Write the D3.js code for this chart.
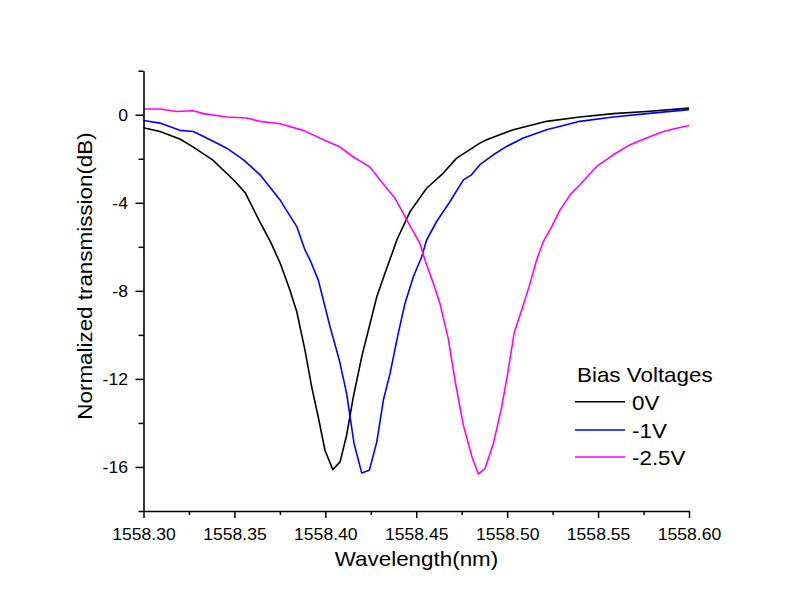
<!DOCTYPE html>
<html>
<head>
<meta charset="utf-8">
<script src="https://cdn.jsdelivr.net/npm/d3@7"></script>
<style>
  html, body { margin: 0; padding: 0; background: #fff; }
  svg { display: block; }
  text { font-family: "Liberation Sans", Arial, sans-serif; fill: #000; }
</style>
</head>
<body>
<svg id="chart" width="800" height="612"></svg>
<script>
// ---- data ----
const seriesNames = ["0V", "-1V", "-2.5V"];
const seriesColors = ["#000000", "#0000ff", "#ff00ff"];

const wl0 = [1558.300, 1558.309, 1558.320, 1558.327, 1558.338, 1558.350, 1558.356, 1558.364, 1558.370, 1558.3752, 1558.3805, 1558.3843, 1558.3888, 1558.3925, 1558.3961, 1558.3998, 1558.4041, 1558.4081, 1558.4117, 1558.4154, 1558.4200, 1558.4246, 1558.4283, 1558.4328, 1558.4374, 1558.4393, 1558.4466, 1558.4557, 1558.4649, 1558.4722, 1558.4850, 1558.4887, 1558.5034, 1558.5217, 1558.5400, 1558.5584, 1558.5767, 1558.6000];
const t0  = [-0.59, -0.76, -1.10, -1.45, -2.05, -3.00, -3.55, -4.87, -5.80, -6.75, -7.96, -8.95, -10.69, -12.36, -13.73, -15.24, -16.12, -15.77, -14.56, -12.82, -11.00, -9.48, -8.27, -7.20, -6.14, -5.69, -4.40, -3.34, -2.65, -1.97, -1.29, -1.14, -0.68, -0.30, -0.10, 0.05, 0.15, 0.30];

const wl1 = [1558.300, 1558.309, 1558.320, 1558.3274, 1558.3366, 1558.3458, 1558.3550, 1558.3641, 1558.3751, 1558.3796, 1558.3843, 1558.3888, 1558.3916, 1558.3961, 1558.4026, 1558.4077, 1558.4117, 1558.4158, 1558.4200, 1558.4242, 1558.4283, 1558.4319, 1558.4356, 1558.4401, 1558.4438, 1558.4484, 1558.4530, 1558.4557, 1558.4612, 1558.4686, 1558.4759, 1558.4804, 1558.4850, 1558.4924, 1558.4997, 1558.5089, 1558.5217, 1558.5400, 1558.5584, 1558.5767, 1558.6000];
const t1  = [-0.26, -0.38, -0.71, -0.76, -1.14, -1.52, -2.05, -2.73, -3.87, -4.47, -5.08, -6.14, -6.60, -7.50, -9.63, -11.15, -12.66, -14.94, -16.27, -16.15, -14.86, -12.97, -11.75, -9.93, -8.57, -7.36, -6.45, -5.69, -4.85, -3.94, -2.96, -2.73, -2.27, -1.82, -1.44, -1.06, -0.68, -0.30, -0.10, 0.05, 0.23];

const wl2 = [1558.300, 1558.309, 1558.3183, 1558.3274, 1558.3329, 1558.3458, 1558.3568, 1558.3641, 1558.3751, 1558.3879, 1558.3990, 1558.4081, 1558.4154, 1558.4246, 1558.4301, 1558.4383, 1558.4448, 1558.4520, 1558.4548, 1558.4594, 1558.4630, 1558.4676, 1558.4713, 1558.4759, 1558.4805, 1558.4841, 1558.4878, 1558.4924, 1558.4970, 1558.5006, 1558.5038, 1558.5080, 1558.5126, 1558.5162, 1558.5199, 1558.5245, 1558.5291, 1558.5346, 1558.5400, 1558.5492, 1558.5584, 1558.5676, 1558.5767, 1558.5859, 1558.5932, 1558.6000];
const t2  = [0.26, 0.26, 0.15, 0.18, 0.05, -0.10, -0.15, -0.30, -0.41, -0.71, -1.14, -1.47, -1.92, -2.38, -2.96, -3.79, -4.78, -5.84, -6.60, -7.66, -8.57, -10.17, -12.06, -14.10, -15.50, -16.32, -16.07, -14.94, -13.27, -11.60, -9.93, -8.87, -7.66, -6.60, -5.76, -5.08, -4.32, -3.64, -3.18, -2.35, -1.82, -1.36, -1.06, -0.76, -0.61, -0.49];

const xMajorTicks = [1558.30, 1558.35, 1558.40, 1558.45, 1558.50, 1558.55, 1558.60];
const xMinorTicks = [1558.325, 1558.375, 1558.425, 1558.475, 1558.525, 1558.575];
const yMajorTicks = [0, -4, -8, -12, -16];
const yMinorTicks = [2, -2, -6, -10, -14, -18];

const xTitle = "Wavelength(nm)";
const yTitle = "Normalized transmission(dB)";
const legendTitle = "Bias Voltages";

// ---- drawing ----
const svg = d3.select("#chart");
const x = d3.scaleLinear().domain([1558.30, 1558.60]).range([143.5, 689]);
const y = d3.scaleLinear().domain([-18, 2]).range([511, 70.7]);

const SX = 1.1;   // horizontal stretch of the reference's lettering

const series = [
  { name: seriesNames[0], color: seriesColors[0], pts: wl0.map((w, i) => [w, t0[i]]) },
  { name: seriesNames[1], color: seriesColors[1], pts: wl1.map((w, i) => [w, t1[i]]) },
  { name: seriesNames[2], color: seriesColors[2], pts: wl2.map((w, i) => [w, t2[i]]) }
];

const line = d3.line().x(d => x(d[0])).y(d => y(d[1]));

const plot = svg.append("g");
series.forEach(s => {
  plot.append("path")
    .attr("d", line(s.pts))
    .attr("fill", "none")
    .attr("stroke", s.color)
    .attr("stroke-width", 1.6)
    .attr("stroke-linejoin", "round");
});

// X axis
const xAxisG = svg.append("g").attr("transform", `translate(0,${y(-18)})`);
const xMajG = xAxisG.append("g")
  .call(d3.axisBottom(x).tickValues(xMajorTicks).tickSize(7).tickSizeOuter(0).tickFormat(d3.format(".2f")));
const xMinG = xAxisG.append("g")
  .call(d3.axisBottom(x).tickValues(xMinorTicks).tickSize(4).tickSizeOuter(0).tickFormat(""));
xMinG.select(".domain").remove();
xMinG.selectAll(".tick text").remove();
xAxisG.selectAll(".tick line").attr("stroke", "#000").attr("stroke-width", 1.5);
xMajG.select(".domain").attr("stroke", "#000").attr("stroke-width", 1.6);
xMajG.selectAll(".tick text")
  .attr("y", 0).attr("dy", 0)
  .attr("transform", `translate(0,29) scale(${SX},1)`)
  .style("font-size", "16px")
  .style("font-family", "'Liberation Sans', Arial, sans-serif");

// Y axis
const yAxisG = svg.append("g").attr("transform", `translate(${x(1558.30)},0)`);
const yMajG = yAxisG.append("g")
  .call(d3.axisLeft(y).tickValues(yMajorTicks).tickSize(8).tickSizeOuter(0).tickFormat(d3.format("d")));
const yMinG = yAxisG.append("g")
  .call(d3.axisLeft(y).tickValues(yMinorTicks).tickSize(5).tickSizeOuter(0).tickFormat(""));
yMinG.select(".domain").remove();
yMinG.selectAll(".tick text").remove();
yAxisG.selectAll(".tick line").attr("stroke", "#000").attr("stroke-width", 1.5);
yMajG.select(".domain").attr("stroke", "#000").attr("stroke-width", 1.6);
yMajG.selectAll(".tick text")
  .attr("x", 0).attr("dy", "0.36em")
  .attr("transform", `translate(-15.5,0) scale(${SX},1)`)
  .text(d => String(d))
  .style("font-size", "16px")
  .style("font-family", "'Liberation Sans', Arial, sans-serif");

// Titles
function stretchedText(g, tx, ty, str, size, anchor, rot) {
  return g.append("text")
    .attr("transform", `translate(${tx},${ty})` + (rot ? ` rotate(${rot})` : "") + ` scale(${SX + 0.02},1)`)
    .attr("text-anchor", anchor)
    .style("font-size", size + "px")
    .text(str);
}
stretchedText(svg, 416.5, 566, xTitle, 20, "middle", 0);
stretchedText(svg, 91.5, 276, yTitle, 20, "middle", -90);

// Legend
const lg = svg.append("g");
stretchedText(lg, 577, 382, legendTitle, 20, "start", 0);
const rowY = [401.7, 430, 457];
const rowBase = [410, 438, 465];
series.forEach((s, i) => {
  lg.append("line")
    .attr("x1", 575).attr("x2", 625)
    .attr("y1", rowY[i]).attr("y2", rowY[i])
    .attr("stroke", s.color).attr("stroke-width", 1.6);
  stretchedText(lg, 632, rowBase[i], s.name, 20, "start", 0);
});
</script>
</body>
</html>
